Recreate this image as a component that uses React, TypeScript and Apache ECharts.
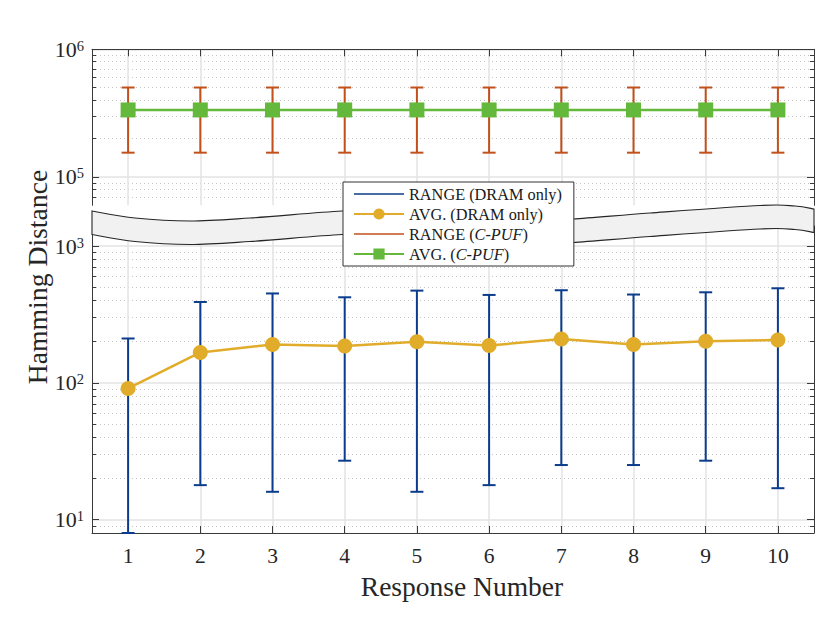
import React, { useEffect, useRef } from "react";
import * as echarts from "echarts";

const responses = [1, 2, 3, 4, 5, 6, 7, 8, 9, 10];
const xTicks = [1, 2, 3, 4, 5, 6, 7, 8, 9, 10];

const dramAvg = [91, 167, 191, 186, 200, 187.5, 209, 191, 201, 206];
const dramHigh = [211, 390, 450, 422, 472, 439, 475, 442, 459, 491];
const dramLow = [8, 17.9, 16, 27, 16, 17.9, 25.1, 25.1, 27, 17];

const cpufAvg = [335000, 335000, 335000, 335000, 335000, 335000, 335000, 335000, 335000, 335000];
const cpufHigh = [502000, 502000, 502000, 502000, 502000, 502000, 502000, 502000, 502000, 502000];
const cpufLow = [155000, 155000, 155000, 155000, 155000, 155000, 155000, 155000, 155000, 155000];

const topMajor = [100000, 1000000];
const topMinor = [70000, 80000, 90000, 200000, 300000, 400000, 500000, 600000, 700000, 800000, 900000];
const bottomMajor = [10, 100, 1000];
const bottomMinor = [9, 20, 30, 40, 50, 60, 70, 80, 90, 200, 300, 400, 500, 600, 700, 800, 900];

const NAMES = ["RANGE (DRAM only)", "AVG. (DRAM only)", "RANGE (C-PUF)", "AVG. (C-PUF)"];
const C_BLUE = "#0b3d8c";
const C_GOLD = "#e0ac2a";
const C_RED = "#c2501a";
const C_GREEN = "#64b93c";
const FONT = "Liberation Serif";
const AX = "#3a3a3a";

// break band decoration edges (pixel layout only)
const bandTop: [number, number][] = [
  [92, 211], [135, 218], [190, 221], [250, 218], [342, 211], [400, 209.5],
  [470, 214], [540, 219], [573, 219], [650, 213], [760, 205.5], [795, 206], [814, 209],
];

function smooth(pts: [number, number][]) {
  let d = "";
  for (let i = 0; i < pts.length - 1; i++) {
    const p0 = pts[i - 1] || pts[i];
    const p1 = pts[i];
    const p2 = pts[i + 1];
    const p3 = pts[i + 2] || p2;
    const c1x = p1[0] + (p2[0] - p0[0]) / 6;
    const c1y = p1[1] + (p2[1] - p0[1]) / 6;
    const c2x = p2[0] - (p3[0] - p1[0]) / 6;
    const c2y = p2[1] - (p3[1] - p1[1]) / 6;
    d += ` C ${c1x} ${c1y} ${c2x} ${c2y} ${p2[0]} ${p2[1]}`;
  }
  return d;
}

let registered = false;
function registerBand() {
  if (registered) return;
  registered = true;
  const top = bandTop;
  const bottom = bandTop.map(([x, y]) => [x, y + 23.5] as [number, number]).reverse();
  const d =
    `M ${top[0][0]} ${top[0][1]}` + smooth(top) +
    ` L ${bottom[0][0]} ${bottom[0][1]}` + smooth(bottom) + " Z";
  echarts.graphic.registerShape("breakBand", echarts.graphic.extendPath(d, {}) as any);
}

function errorBar(color: string) {
  return (params: any, api: any) => {
    const x = api.value(0);
    const lo = api.value(1);
    const hi = api.value(2);
    const pLo = api.coord([x, lo]);
    const pHi = api.coord([x, hi]);
    const hw = 6.5;
    const style = { stroke: color, lineWidth: 2 };
    return {
      type: "group",
      children: [
        { type: "line", shape: { x1: pHi[0], y1: pHi[1], x2: pLo[0], y2: pLo[1] }, style },
        { type: "line", shape: { x1: pHi[0] - hw, y1: pHi[1], x2: pHi[0] + hw, y2: pHi[1] }, style },
        { type: "line", shape: { x1: pLo[0] - hw, y1: pLo[1], x2: pLo[0] + hw, y2: pLo[1] }, style },
      ],
    };
  };
}

const supLabel = (v: number) => `{b|10}{s|${Math.round(Math.log10(v))}}`;
const labelRich = {
  b: { fontSize: 22, fontFamily: FONT, color: "#262626", lineHeight: 22, verticalAlign: "bottom" },
  s: { fontSize: 14.5, fontFamily: FONT, color: "#262626", lineHeight: 14, verticalAlign: "top", padding: [0, 0, 12, 0] },
};

function yAxes(gridIndex: number, min: number, max: number, major: number[], minor: number[]) {
  const base = { type: "log", logBase: 10, gridIndex, min, max };
  return [
    {
      ...base,
      position: "left",
      axisLine: { show: true, lineStyle: { color: AX, width: 1 } },
      axisTick: { show: true, inside: true, length: 7, customValues: major, lineStyle: { color: AX } },
      axisLabel: { show: true, customValues: major, formatter: supLabel, rich: labelRich, margin: 8 },
      splitLine: { show: true, lineStyle: { color: "#e3e3e3", width: 1.5 } },
      minorTick: { show: false },
    },
    {
      ...base,
      position: "left",
      axisLine: { show: false },
      axisTick: { show: true, inside: true, length: 4, customValues: minor, lineStyle: { color: AX } },
      axisLabel: { show: false },
      splitLine: { show: true, lineStyle: { color: "#c4c4c4", width: 1, type: [1, 3] } },
    },
    {
      ...base,
      position: "right",
      axisLine: { show: true, lineStyle: { color: AX, width: 1 } },
      axisTick: { show: true, inside: true, length: 7, customValues: major, lineStyle: { color: AX } },
      axisLabel: { show: false },
      splitLine: { show: false },
    },
    {
      ...base,
      position: "right",
      axisLine: { show: false },
      axisTick: { show: true, inside: true, length: 4, customValues: minor, lineStyle: { color: AX } },
      axisLabel: { show: false },
      splitLine: { show: false },
    },
  ];
}

export default function App() {
  const ref = useRef<HTMLDivElement>(null);

  useEffect(() => {
    document.body.style.margin = "0";
    registerBand();
    const chart = echarts.init(ref.current!, undefined, { renderer: "svg" });

    const dramRange = responses.map((x, i) => [x, dramLow[i], dramHigh[i]]);
    const cpufRange = responses.map((x, i) => [x, cpufLow[i], cpufHigh[i]]);

    const legendLine = "path://M0,0 L50,0 L50,1.6 L0,1.6 Z";

    chart.setOption({
      animation: false,
      backgroundColor: "#ffffff",
      textStyle: { fontFamily: FONT },
      grid: [
        { left: 92, right: 16, top: 49.3, height: 156 },
        { left: 92, right: 16, top: 226, height: 307 },
      ],
      xAxis: [
        {
          type: "value", gridIndex: 0, position: "top", min: 0.5, max: 10.5,
          axisLine: { show: true, lineStyle: { color: AX, width: 1 } },
          axisTick: { show: true, inside: true, length: 7, customValues: xTicks, lineStyle: { color: AX } },
          axisLabel: { show: false },
          splitLine: { show: true, lineStyle: { color: "#e3e3e3", width: 1.5 } },
        },
        {
          type: "value", gridIndex: 1, position: "bottom", min: 0.5, max: 10.5,
          name: "Response Number", nameLocation: "middle", nameGap: 39,
          nameTextStyle: { fontSize: 27.5, fontFamily: FONT, color: "#262626", padding: [0, 0, 0, 18] },
          axisLine: { show: true, lineStyle: { color: AX, width: 1 } },
          axisTick: { show: true, inside: true, length: 7, customValues: xTicks, lineStyle: { color: AX } },
          axisLabel: { show: true, customValues: xTicks, fontSize: 21.5, fontFamily: FONT, color: "#262626", margin: 12 },
          splitLine: { show: true, lineStyle: { color: "#e3e3e3", width: 1.5 } },
        },
      ],
      yAxis: [
        ...yAxes(0, 60000, 1000000, topMajor, topMinor),
        ...yAxes(1, 8, 1400, bottomMajor, bottomMinor),
      ],
      legend: {
        orient: "vertical",
        left: 343,
        top: 182,
        backgroundColor: "#ffffff",
        borderColor: "#333333",
        borderWidth: 1,
        borderRadius: 0,
        padding: [2, 12, 2, 10],
        itemGap: 0,
        itemWidth: 50,
        itemHeight: 14,
        textStyle: {
          fontFamily: FONT, fontSize: 16.3, color: "#1a1a1a", lineHeight: 20,
          rich: { i: { fontFamily: FONT, fontSize: 16.3, fontStyle: "italic", color: "#1a1a1a", lineHeight: 20 } },
        },
        formatter: (name: string) => name.replace("C-PUF", "{i|C-PUF}"),
        data: [
          { name: NAMES[0], icon: legendLine },
          { name: NAMES[1] },
          { name: NAMES[2], icon: legendLine },
          { name: NAMES[3] },
        ],
      },
      graphic: [
        {
          type: "breakBand", x: 0, y: 0, z: 3,
          style: { fill: "#f1f1f1", stroke: "#262626", lineWidth: 1.1 },
        },
        {
          type: "text", x: 37, y: 277, rotation: Math.PI / 2, z: 5,
          style: {
            text: "Hamming Distance", fontSize: 27.7, fontFamily: FONT, fill: "#262626",
            align: "center", verticalAlign: "middle",
          },
        },
      ],
      series: [
        {
          name: NAMES[0], type: "custom", xAxisIndex: 1, yAxisIndex: 4, z: 2,
          itemStyle: { color: C_BLUE },
          renderItem: errorBar(C_BLUE),
          encode: { x: 0, y: [1, 2] },
          data: dramRange,
        },
        {
          name: NAMES[1], type: "line", xAxisIndex: 1, yAxisIndex: 4, z: 3,
          symbol: "circle", symbolSize: 15,
          itemStyle: { color: C_GOLD },
          lineStyle: { color: C_GOLD, width: 2.5 },
          data: responses.map((x, i) => [x, dramAvg[i]]),
        },
        {
          name: NAMES[2], type: "custom", xAxisIndex: 0, yAxisIndex: 0, z: 2,
          itemStyle: { color: C_RED },
          renderItem: errorBar(C_RED),
          encode: { x: 0, y: [1, 2] },
          data: cpufRange,
        },
        {
          name: NAMES[3], type: "line", xAxisIndex: 0, yAxisIndex: 0, z: 3,
          symbol: "rect", symbolSize: 15,
          itemStyle: { color: C_GREEN },
          lineStyle: { color: C_GREEN, width: 2.5 },
          data: responses.map((x, i) => [x, cpufAvg[i]]),
        },
      ],
    });

    return () => chart.dispose();
  }, []);

  return <div ref={ref} style={{ width: 830, height: 625 }} />;
}
